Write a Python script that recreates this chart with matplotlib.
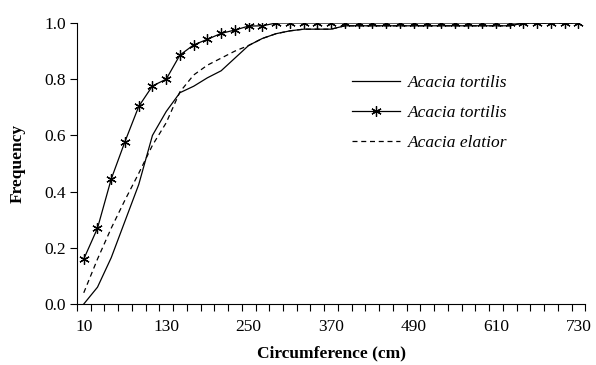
import matplotlib
matplotlib.use("Agg")
import matplotlib.pyplot as plt
import numpy as np

plt.rcParams['font.family'] = ['Liberation Serif', 'DejaVu Serif']

# circumference classes (cm), one point every 20 cm
circ = list(range(10, 731, 20))

tortilis_a = [0.00, 0.06, 0.165, 0.295, 0.425, 0.60, 0.685, 0.752, 0.775, 0.805,
              0.83, 0.875, 0.92, 0.945, 0.962, 0.972, 0.978, 0.978, 0.978, 0.99,
              0.99, 0.99, 0.99, 0.99, 0.99, 0.99, 0.99, 0.99, 0.99, 0.99,
              0.99, 0.99, 1.0, 1.0, 1.0, 1.0, 1.0]
tortilis_b = [0.16, 0.27, 0.445, 0.578, 0.703, 0.776, 0.80, 0.886, 0.922, 0.942,
              0.963, 0.975, 0.989, 0.99, 1.0, 1.0, 1.0, 1.0, 1.0, 1.0,
              1.0, 1.0, 1.0, 1.0, 1.0, 1.0, 1.0, 1.0, 1.0, 1.0,
              1.0, 1.0, 1.0, 1.0, 1.0, 1.0, 1.0]
elatior = [0.04, 0.16, 0.27, 0.37, 0.465, 0.565, 0.645, 0.755, 0.815, 0.85,
           0.875, 0.90, 0.92, 0.945, 0.962, 0.972, 0.978, 0.978, 0.978, 0.99,
           0.99, 0.99, 0.99, 0.99, 0.99, 0.99, 0.99, 0.99, 0.99, 0.99,
           0.99, 0.99, 1.0, 1.0, 1.0, 1.0, 1.0]

xticklabels = [10, 130, 250, 370, 490, 610, 730]
yticks = [0.0, 0.2, 0.4, 0.6, 0.8, 1.0]

fig = plt.figure(figsize=(5.96, 3.65), dpi=100)
ax = fig.add_axes([0.129, 0.167, 0.853, 0.770])

ax.plot(circ, tortilis_a, color='black', lw=0.9, label='Acacia tortilis')
ax.plot(circ, tortilis_b, color='black', lw=0.9, marker=(6, 2, 0), ms=7.5,
        mew=0.9, label='Acacia tortilis')
ax.plot(circ, elatior, color='black', lw=0.9, ls=(0, (4, 3)),
        label='Acacia elatior')

ax.set_xlim(0, 740)
ax.set_ylim(0, 1.0)
ax.set_xticks(xticklabels)
ax.set_xticklabels([str(v) for v in xticklabels])
ax.set_xticks(np.arange(0, 741, 20), minor=True)
ax.tick_params(axis='x', which='major', length=0, pad=11, labelsize=12.5)
ax.tick_params(axis='x', which='minor', length=5, width=0.8, direction='out')
ax.set_yticks(yticks)
ax.set_yticklabels(['%.1f' % v for v in yticks])
ax.tick_params(axis='y', length=5, width=0.8, labelsize=12.5, pad=3)

for s in ['top', 'right']:
    ax.spines[s].set_visible(False)
for s in ['left', 'bottom']:
    ax.spines[s].set_linewidth(0.8)

ax.set_xlabel('Circumference (cm)', fontsize=12.5, fontweight='bold', labelpad=7)
ax.set_ylabel('Frequency', fontsize=12.5, fontweight='bold', labelpad=13)

leg = ax.legend(loc='upper left', bbox_to_anchor=(0.51, 0.87), frameon=False,
                prop={'style': 'italic', 'size': 12.5}, handlelength=2.8,
                handletextpad=0.45, labelspacing=0.8)

fig.savefig('out.png', dpi=100)
